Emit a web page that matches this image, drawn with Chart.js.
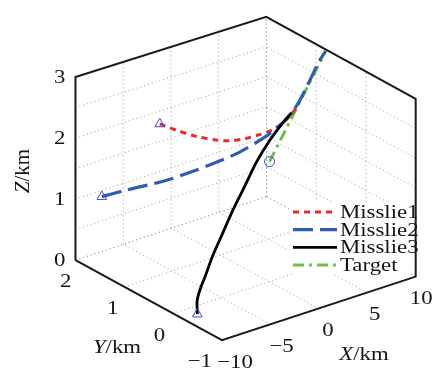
<!DOCTYPE html>
<html><head><meta charset="utf-8">
<script src="https://cdn.jsdelivr.net/npm/chart.js@4/dist/chart.umd.min.js"></script>
<style>html,body{margin:0;padding:0;background:#fff;overflow:hidden}</style>
</head><body>
<canvas id="c" width="441" height="369"></canvas>
<script>
// ---------- data (km) ----------
const seriesNames = ['Misslie1', 'Misslie2', 'Misslie3', 'Target'];

const missile1X = [-3.74, -2.43, -0.93, 0.58, 1.58, 2.59, 3.59, 4.29, 4.88, 5.28, 5.27];
const missile1Y = [1.5, 1.4, 1.3, 1.2, 1.1, 1.0, 0.9, 0.8, 0.7, 0.6, 0.5];
const missile1Z = [2.14, 2.01, 1.88, 1.79, 1.77, 1.80, 1.86, 1.94, 2.07, 2.23, 2.39];

const missile2X = [-8.26, -6.15, -2.88, -0.66, 1.4, 2.85, 4.40, 5.09, 5.89, 7.6, 8.9, 9.8];
const missile2Y = [1.8, 1.7, 1.55, 1.45, 1.3, 1.15, 1.0, 0.8, 0.62, 0.69, 0.74, 0.77];
const missile2Z = [1.04, 1.086, 1.14, 1.216, 1.35, 1.50, 1.706, 1.967, 2.324, 2.61, 2.87, 3.0];

const missile3X = [-8.5, -8.42, -7.96, -7.3, -6.29, -5.02, -3.6, -2.03, -0.41, 1.31, 3.04, 4.46];
const missile3Y = [-0.2, -0.18, -0.15, -0.12, -0.08, -0.03, 0.03, 0.1, 0.18, 0.26, 0.34, 0.42];
const missile3Z = [0, 0.21, 0.36, 0.52, 0.80, 1.08, 1.38, 1.66, 1.94, 2.16, 2.32, 2.40];

const targetX = [0, 9.8];
const targetY = [0, 0.77];
const targetZ = [2.0, 3.0];

const xTicks = [-10, -5, 0, 5, 10];
const yTicks = [-1, 0, 1, 2];
const zTicks = [0, 1, 2, 3];
const zGrid = [0, 0.5, 1, 1.5, 2, 2.5, 3];

// ---------- view (box corners on the page) ----------
const LIM = {x: [-10, 10], y: [-1, 2], z: [0, 3]};
const CORNER = {
  c000: [222, 346], c100: [421.7, 280], c010: [71, 263], c110: [268, 197],
  c001: [222, 158], c101: [421.7, 95.7], c011: [71, 73], c111: [267.7, 10.7]
};
function project(X, Y, Z) {
  const u = (X - LIM.x[0]) / (LIM.x[1] - LIM.x[0]);
  const v = (Y - LIM.y[0]) / (LIM.y[1] - LIM.y[0]);
  const w = (Z - LIM.z[0]) / (LIM.z[1] - LIM.z[0]);
  const r = [0, 0];
  for (let k = 0; k < 2; k++) {
    const b0 = (1 - u) * (1 - v) * CORNER.c000[k] + u * (1 - v) * CORNER.c100[k] + (1 - u) * v * CORNER.c010[k] + u * v * CORNER.c110[k];
    const b1 = (1 - u) * (1 - v) * CORNER.c001[k] + u * (1 - v) * CORNER.c101[k] + (1 - u) * v * CORNER.c011[k] + u * v * CORNER.c111[k];
    r[k] = b0 * (1 - w) + b1 * w;
  }
  return {x: r[0], y: r[1]};
}
function series(xs, ys, zs) { return xs.map((x, i) => project(x, ys[i], zs[i])); }

const MARK = '#3552c9';
const STY = [
  {color: '#ea2a30', width: 3, dash: [6, 5], marker: 'triangle', order: 2},
  {color: '#2f5cb5', width: 3.2, dash: [20, 7], marker: 'triangle', order: 1},
  {color: '#000000', width: 2.8, dash: [], marker: 'triangle', order: 0},
  {color: '#6cc046', width: 3, dash: [11, 5, 3, 5], marker: 'circle', order: 3}
];
const DATA = [
  series(missile1X, missile1Y, missile1Z),
  series(missile2X, missile2Y, missile2Z),
  series(missile3X, missile3Y, missile3Z),
  series(targetX, targetY, targetZ)
];

const SERIF = '"Liberation Serif", "Times New Roman", serif';
const SX = 1.2;
const INK = '#151515';

function px(chart, p) {
  return [chart.scales.x.getPixelForValue(p.x), chart.scales.y.getPixelForValue(p.y)];
}
function seg(chart, ctx, a, b) {
  const p = px(chart, project(a[0], a[1], a[2]));
  const q = px(chart, project(b[0], b[1], b[2]));
  ctx.beginPath(); ctx.moveTo(p[0], p[1]); ctx.lineTo(q[0], q[1]); ctx.stroke();
}
function txt(ctx, s, x, y, align, font) {
  ctx.save(); ctx.translate(x, y); ctx.scale(SX, 1);
  ctx.font = font; ctx.textAlign = align; ctx.textBaseline = 'middle'; ctx.fillStyle = INK;
  ctx.fillText(s, 0, 0); ctx.restore();
}
function fmt(v) { return v < 0 ? '\u2212' + Math.abs(v) : String(v); }
function title(ctx, letter, rest, cx, cy, size) {
  ctx.save(); ctx.translate(cx, cy); ctx.scale(SX, 1);
  ctx.textBaseline = 'middle'; ctx.fillStyle = INK;
  const fi = 'italic ' + size + 'px ' + SERIF, fu = size + 'px ' + SERIF;
  ctx.font = fi; const w1 = ctx.measureText(letter).width;
  ctx.font = fu; const w2 = ctx.measureText(rest).width;
  const x0 = -(w1 + w2) / 2;
  ctx.textAlign = 'left';
  ctx.font = fi; ctx.fillText(letter, x0, 0);
  ctx.font = fu; ctx.fillText(rest, x0 + w1, 0);
  ctx.restore();
}

const LEG = {x0: 293, x1: 337, tx: 340, y0: 212, dy: 17.7, bg: [289, 202, 131, 72]};

const axes3d = {
  id: 'axes3d',
  beforeDatasetsDraw(chart) {
    const ctx = chart.ctx;
    const [x0, x1] = LIM.x, [y0, y1] = LIM.y, [z0, z1] = LIM.z;
    ctx.save();
    ctx.strokeStyle = '#9c9c9c'; ctx.lineWidth = 1; ctx.setLineDash([1, 3]);
    // back wall Y = max
    xTicks.forEach(X => seg(chart, ctx, [X, y1, z0], [X, y1, z1]));
    zGrid.forEach(Z => seg(chart, ctx, [x0, y1, Z], [x1, y1, Z]));
    // back wall X = max
    yTicks.forEach(Y => seg(chart, ctx, [x1, Y, z0], [x1, Y, z1]));
    zGrid.forEach(Z => seg(chart, ctx, [x1, y0, Z], [x1, y1, Z]));
    // floor
    xTicks.forEach(X => seg(chart, ctx, [X, y0, z0], [X, y1, z0]));
    yTicks.forEach(Y => seg(chart, ctx, [x0, Y, z0], [x1, Y, z0]));
    ctx.setLineDash([]);
    // legend background
    ctx.fillStyle = '#ffffff';
    ctx.fillRect(LEG.bg[0], LEG.bg[1], LEG.bg[2], LEG.bg[3]);
    // box
    ctx.strokeStyle = '#1a1a1a'; ctx.lineWidth = 2; ctx.lineJoin = 'miter';
    const path = [[x0, y1, z0], [x0, y1, z1], [x1, y1, z1], [x1, y0, z1], [x1, y0, z0], [x0, y0, z0], [x0, y1, z0]];
    ctx.beginPath();
    path.forEach((c, i) => { const p = px(chart, project(c[0], c[1], c[2])); if (i) ctx.lineTo(p[0], p[1]); else ctx.moveTo(p[0], p[1]); });
    ctx.stroke();
    ctx.restore();
  },
  afterDatasetsDraw(chart) {
    const ctx = chart.ctx;
    const [x0, x1] = LIM.x, [y0, y1] = LIM.y, [z0, z1] = LIM.z;
    const tf = '19px ' + SERIF;
    // Z ticks
    zTicks.forEach(Z => { const p = px(chart, project(x0, y1, Z)); txt(ctx, fmt(Z), p[0] - 10, p[1] + 1, 'right', tf); });
    // Y ticks
    yTicks.forEach(Y => { const p = px(chart, project(x0, Y, z0)); txt(ctx, fmt(Y), p[0] - 4 - 2 * (y1 - Y), p[1] + 22, 'right', tf); });
    // X ticks
    xTicks.forEach(X => { const u = (X - x0) / (x1 - x0); const p = px(chart, project(X, y0, z0)); txt(ctx, fmt(X), p[0] + 13 - 7.5 * u, p[1] + 22.5, 'center', tf); });
    // axis titles
    title(ctx, 'X', '/km', 364, 355, 19);
    title(ctx, 'Y', '/km', 117, 348, 19);
    ctx.save(); ctx.translate(23, 171); ctx.rotate(-Math.PI / 2);
    ctx.textBaseline = 'middle'; ctx.fillStyle = INK;
    const fi = 'italic 21px ' + SERIF, fu = '21px ' + SERIF;
    ctx.font = fi; const w1 = ctx.measureText('Z').width; ctx.font = fu; const w2 = ctx.measureText('/km').width;
    ctx.textAlign = 'left'; ctx.font = fi; ctx.fillText('Z', -(w1 + w2) / 2, 0); ctx.font = fu; ctx.fillText('/km', -(w1 + w2) / 2 + w1, 0);
    ctx.restore();
    // legend
    seriesNames.forEach((name, i) => {
      const y = LEG.y0 + i * LEG.dy, s = STY[i];
      ctx.save(); ctx.strokeStyle = s.color; ctx.lineWidth = s.width; ctx.setLineDash(s.dash);
      ctx.beginPath(); ctx.moveTo(LEG.x0, y); ctx.lineTo(LEG.x1, y); ctx.stroke(); ctx.restore();
      txt(ctx, name, LEG.tx, y + 1, 'left', '19px ' + SERIF);
    });
  }
};

new Chart(document.getElementById('c'), {
  type: 'scatter',
  data: {
    datasets: DATA.map((d, i) => ({
      label: seriesNames[i], data: d, showLine: true, order: STY[i].order,
      borderColor: STY[i].color, borderWidth: STY[i].width, borderDash: STY[i].dash,
      tension: 0.3, fill: false, borderCapStyle: 'butt',
      pointStyle: STY[i].marker,
      pointRadius: ctx => ctx.dataIndex === 0 ? (STY[i].marker === 'circle' ? 5 : 5.6) : 0,
      pointHoverRadius: 0,
      pointBorderColor: MARK, pointBackgroundColor: 'rgba(255,255,255,0)', pointBorderWidth: 1
    }))
  },
  options: {
    responsive: false, animation: false, devicePixelRatio: 1,
    layout: {padding: 0},
    events: [],
    scales: {
      x: {type: 'linear', min: 0, max: 441, display: false},
      y: {type: 'linear', min: 0, max: 369, reverse: true, display: false}
    },
    plugins: {legend: {display: false}, tooltip: {enabled: false}}
  },
  plugins: [axes3d]
});
</script>
</body></html>
